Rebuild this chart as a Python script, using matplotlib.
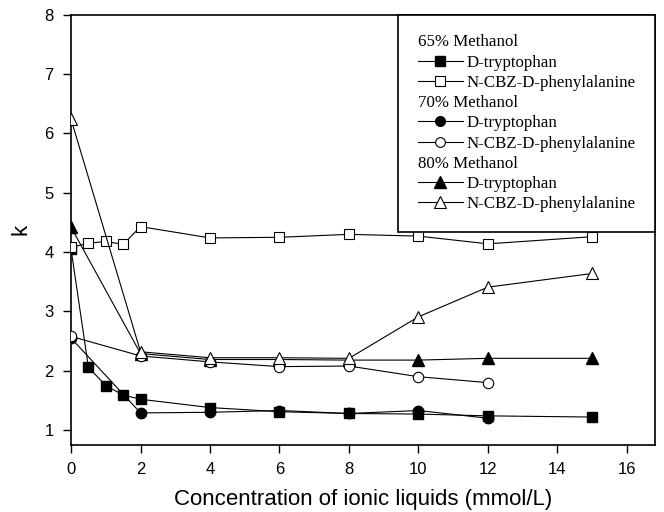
import matplotlib
matplotlib.use('Agg')
import matplotlib.pyplot as plt
from matplotlib.lines import Line2D

# concentration of ionic liquids (mmol/L)
x_65 = [0, 0.5, 1, 1.5, 2, 4, 6, 8, 10, 12, 15]
x_70 = [0, 2, 4, 6, 8, 10, 12]
x_80 = [0, 2, 4, 6, 8, 10, 12, 15]

# k values
trp_65 = [4.05, 2.06, 1.75, 1.59, 1.52, 1.38, 1.31, 1.28, 1.27, 1.24, 1.22]
cbz_65 = [4.08, 4.15, 4.18, 4.13, 4.43, 4.24, 4.25, 4.30, 4.27, 4.14, 4.26]
trp_70 = [2.55, 1.29, 1.30, 1.33, 1.28, 1.33, 1.20]
cbz_70 = [2.58, 2.25, 2.15, 2.07, 2.08, 1.90, 1.80]
trp_80 = [4.42, 2.29, 2.19, 2.19, 2.18, 2.18, 2.21, 2.21]
cbz_80 = [6.24, 2.32, 2.22, 2.22, 2.21, 2.91, 3.41, 3.64]

xticks = list(range(0, 17, 2))
yticks = list(range(1, 9))

fig = plt.figure(figsize=(6.64, 5.12), dpi=100)
ax = fig.add_axes([0.107, 0.131, 0.879, 0.840])

lw = 0.8
ax.plot(x_65, trp_65, color='black', lw=lw, marker='s', ms=7, mfc='black', mec='black', zorder=3)
ax.plot(x_70, trp_70, color='black', lw=lw, marker='o', ms=7.5, mfc='black', mec='black', zorder=3)
ax.plot(x_80, trp_80, color='black', lw=lw, marker='^', ms=8.5, mfc='black', mec='black', zorder=3)
ax.plot(x_65, cbz_65, color='black', lw=lw, marker='s', ms=7, mfc='white', mec='black', mew=0.8, zorder=4)
ax.plot(x_70, cbz_70, color='black', lw=lw, marker='o', ms=7.5, mfc='white', mec='black', mew=0.8, zorder=4)
ax.plot(x_80, cbz_80, color='black', lw=lw, marker='^', ms=8.5, mfc='white', mec='black', mew=0.8, zorder=4)

ax.set_xlim(0, 16.8)
ax.set_ylim(0.75, 8)
ax.set_xticks(xticks)
ax.set_yticks(yticks)
ax.tick_params(direction='out', length=6, width=1, labelsize=12)
ax.tick_params(axis='x', pad=6)
ax.tick_params(axis='y', pad=6.5)
for lab in ax.get_xticklabels() + ax.get_yticklabels():
    lab.set_family('Liberation Sans')
for s in ax.spines.values():
    s.set_linewidth(1.2)
ax.set_xlabel('Concentration of ionic liquids (mmol/L)', family='Liberation Sans', fontsize=16, labelpad=9)
ax.set_ylabel('k', family='Liberation Sans', fontsize=16, labelpad=9)

blank = Line2D([], [], linestyle='none')
handles = [
    blank,
    Line2D([], [], color='black', lw=lw, marker='s', ms=6.5, mfc='black', mec='black'),
    Line2D([], [], color='black', lw=lw, marker='s', ms=6.5, mfc='white', mec='black', mew=0.8),
    blank,
    Line2D([], [], color='black', lw=lw, marker='o', ms=7, mfc='black', mec='black'),
    Line2D([], [], color='black', lw=lw, marker='o', ms=7, mfc='white', mec='black', mew=0.8),
    blank,
    Line2D([], [], color='black', lw=lw, marker='^', ms=8, mfc='black', mec='black'),
    Line2D([], [], color='black', lw=lw, marker='^', ms=8, mfc='white', mec='black', mew=0.8),
]
labels = ['65% Methanol', 'D-tryptophan', 'N-CBZ-D-phenylalanine',
          '70% Methanol', 'D-tryptophan', 'N-CBZ-D-phenylalanine',
          '80% Methanol', 'D-tryptophan', 'N-CBZ-D-phenylalanine']
fs = 12.2
hl, htp = 2.65, 0.2
leg = ax.legend(handles, labels, loc='upper right', borderaxespad=0, fancybox=False,
                edgecolor='black', framealpha=1, prop={'family': 'Liberation Serif', 'size': fs},
                handlelength=hl, handletextpad=htp, labelspacing=0.25, borderpad=1.15)
leg.get_frame().set_linewidth(1.2)

# section titles start where the handle lines start
shift = (hl + htp) * fs * fig.dpi / 72
for i in (0, 3, 6):
    leg.get_texts()[i].set_position((-shift, 0))

fig.savefig('out.png', dpi=100)
